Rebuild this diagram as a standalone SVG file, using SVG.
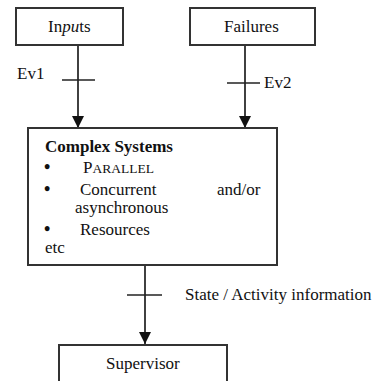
<svg xmlns="http://www.w3.org/2000/svg" width="375" height="381" viewBox="0 0 375 381">
  <style>
    text { font-family: "Liberation Serif", "Times New Roman", serif; font-size: 17px; fill: #111; }
    .bullet { font-size: 18px; font-weight: bold; }
    .box { fill: #fff; stroke: #333; stroke-width: 2; }
    .wire { stroke: #111; stroke-width: 1.6; fill: none; }
    .tick { stroke: #222; stroke-width: 1.6; }
  </style>
  <defs>
    <marker id="arrow" viewBox="0 0 12 12" refX="12" refY="6" markerWidth="12" markerHeight="12" markerUnits="userSpaceOnUse" orient="auto">
      <path d="M0,0 L12,6 L0,12 Z" fill="#111"/>
    </marker>
  </defs>
  <rect width="375" height="381" fill="#fff"/>

  <g id="connectors">
    <line class="wire" x1="78" y1="45" x2="78" y2="128" marker-end="url(#arrow)"/>
    <line class="tick" x1="62" y1="80" x2="95" y2="80"/>
    <text x="17" y="79">Ev1</text>

    <line class="wire" x1="245" y1="45" x2="245" y2="128" marker-end="url(#arrow)"/>
    <line class="tick" x1="227" y1="83" x2="260" y2="83"/>
    <text x="264" y="88">Ev2</text>

    <line class="wire" x1="145" y1="265" x2="145" y2="344" marker-end="url(#arrow)"/>
    <line class="tick" x1="127" y1="295" x2="162" y2="295"/>
    <text x="185" y="300">State / Activity information</text>
  </g>

  <g id="inputs">
    <rect class="box" x="16" y="8" width="107" height="37"/>
    <text x="48" y="32">In<tspan font-style="italic">pu</tspan>ts</text>
  </g>

  <g id="failures">
    <rect class="box" x="190" y="8" width="125" height="37"/>
    <text x="224" y="32">Failures</text>
  </g>

  <g id="complex-systems">
    <rect class="box" x="28" y="128" width="249" height="137"/>
    <text x="45" y="152" font-weight="bold">Complex Systems</text>
    <text class="bullet" x="44" y="173">•</text>
    <text x="83" y="173">P<tspan font-size="13.5">ARALLEL</tspan></text>
    <text class="bullet" x="44" y="195">•</text>
    <text x="80" y="195">Concurrent</text>
    <text x="217" y="195">and/or</text>
    <text x="75" y="213">asynchronous</text>
    <text class="bullet" x="44" y="235">•</text>
    <text x="80" y="235">Resources</text>
    <text x="45" y="253">etc</text>
  </g>

  <g id="supervisor">
    <rect class="box" x="59" y="345" width="168" height="45"/>
    <text x="106" y="369">Supervisor</text>
  </g>
</svg>
